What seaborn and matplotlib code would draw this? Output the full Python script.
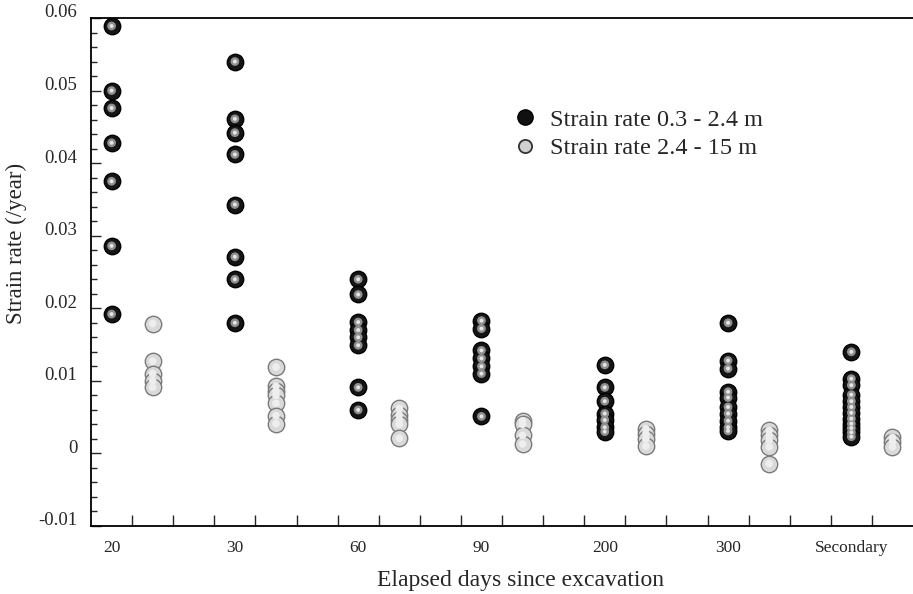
import numpy as np
import pandas as pd
import matplotlib
matplotlib.use("Agg")
import matplotlib.pyplot as plt
import matplotlib.transforms as mtrans
from matplotlib.lines import Line2D
import seaborn as sns

# ---- data ----
groups = ["20", "30", "60", "90", "200", "300", "Secondary"]

shallow = {  # Strain rate 0.3 - 2.4 m
    "20": [0.0589, 0.0500, 0.0476, 0.0428, 0.0375, 0.0286, 0.0192],
    "30": [0.0540, 0.0461, 0.0442, 0.0412, 0.0343, 0.0271, 0.0240, 0.0180],
    "60": [0.0240, 0.0219, 0.0181, 0.0170, 0.0160, 0.0149, 0.0091, 0.0060],
    "90": [0.0183, 0.0172, 0.0142, 0.0131, 0.0120, 0.0110, 0.0051],
    "200": [0.0122, 0.0091, 0.0072, 0.0055, 0.0046, 0.0036, 0.0030],
    "300": [0.0180, 0.0128, 0.0117, 0.0085, 0.0077, 0.0064, 0.0055, 0.0045, 0.0036, 0.0031],
    "Secondary": [0.0140, 0.0103, 0.0094, 0.0081, 0.0072, 0.0064, 0.0056, 0.0048,
                  0.0041, 0.0035, 0.0029, 0.0023],
}
deep = {  # Strain rate 2.4 - 15 m
    "20": [0.0179, 0.0127, 0.0110, 0.0100, 0.0091],
    "30": [0.0119, 0.0093, 0.0086, 0.0080, 0.0069, 0.0052, 0.0041],
    "60": [0.0062, 0.0053, 0.0046, 0.0040, 0.0021],
    "90": [0.0045, 0.0040, 0.0025, 0.0013],
    "200": [0.0034, 0.0027, 0.0020, 0.0010],
    "300": [0.0032, 0.0025, 0.0018, 0.0009, -0.0014],
    "Secondary": [0.0022, 0.0016, 0.0009],
}
series_names = ["Strain rate 0.3 - 2.4 m", "Strain rate 2.4 - 15 m"]
x_label = "Elapsed days since excavation"
y_label = "Strain rate (/year)"

# ---- long-form table ----
rows = []
for gi, g in enumerate(groups):
    for v in shallow[g]:
        rows.append({"group": g, "gi": gi, "series": series_names[0], "rate": v})
    for v in deep[g]:
        rows.append({"group": g, "gi": gi, "series": series_names[1], "rate": v})
df = pd.DataFrame(rows)
offset = {series_names[0]: 0.5, series_names[1]: 1.5}
df["xpos"] = df["gi"] * 3 + df["series"].map(offset)

sns.set_style("ticks")
plt.rcParams["font.family"] = ["Liberation Serif", "DejaVu Serif"]

fig = plt.figure(figsize=(9.13, 5.94), dpi=100)
ax = fig.add_axes([0.0997, 0.1145, 0.9003, 0.8552])

d1 = df[df["series"] == series_names[0]]
d2 = df[df["series"] == series_names[1]]
sns.scatterplot(data=d2, x="xpos", y="rate", ax=ax, s=140, color="#d9d9d9",
                edgecolor="#7a7a7a", linewidth=1.0, legend=False, zorder=3)
sns.scatterplot(data=d1, x="xpos", y="rate", ax=ax, s=140, color="#151515",
                edgecolor="#000000", linewidth=1.0, legend=False, zorder=4)
# sphere highlights
sns.scatterplot(data=d2, x="xpos", y="rate", ax=ax, s=30, color="#eeeeee",
                edgecolor="none", linewidth=0, legend=False, zorder=3.5)
sns.scatterplot(data=d1, x="xpos", y="rate", ax=ax, s=40, color="#8f8f8f",
                edgecolor="none", linewidth=0, legend=False, zorder=4.5)
sns.scatterplot(data=d1, x="xpos", y="rate", ax=ax, s=8, color="#e6e6e6",
                edgecolor="none", linewidth=0, legend=False, zorder=4.6)

ax.set_xlim(0, 20)
ax.set_ylim(-0.01, 0.06)

# x axis: category labels (no marks) + inward minor ticks
ax.set_xticks([gi * 3 + 0.5 for gi in range(len(groups))])
ax.set_xticklabels(groups)
ax.set_xticks(np.arange(1, 20), minor=True)
ax.tick_params(axis="x", which="major", length=0, pad=10, labelsize=12.5)
ax.tick_params(axis="x", which="minor", direction="in", length=8, width=1.0)

# y axis
yt = [-0.01, 0.0, 0.01, 0.02, 0.03, 0.04, 0.05, 0.06]
ax.set_yticks(yt)
ax.set_yticklabels(["-0.01", "0", "0.01", "0.02", "0.03", "0.04", "0.05", "0.06"])
ax.set_yticks(np.arange(-0.01, 0.0601, 0.002), minor=True)
ax.tick_params(axis="y", which="major", direction="in", length=7, width=1.0,
               pad=10, labelsize=13.5)
ax.tick_params(axis="y", which="minor", direction="in", length=4, width=1.0)
shift = mtrans.ScaledTranslation(0, 7 / 100, fig.dpi_scale_trans)
for lbl in ax.get_yticklabels():
    lbl.set_transform(lbl.get_transform() + shift)

for side in ["left", "bottom", "top"]:
    ax.spines[side].set_linewidth(1.3)
    ax.spines[side].set_color("black")
ax.spines["right"].set_visible(False)

ax.set_xlabel(x_label, fontsize=17, labelpad=10)
ax.xaxis.label.set_x(0.522)
ax.set_ylabel(y_label, fontsize=16.5)
ax.yaxis.set_label_coords(-0.078, 0.557)

handles = [
    Line2D([], [], linestyle="none", marker="o", markersize=11,
           markerfacecolor="#111111", markeredgecolor="#000000"),
    Line2D([], [], linestyle="none", marker="o", markersize=9.5,
           markerfacecolor="#d0d0d0", markeredgecolor="#333333", markeredgewidth=1.3),
]
ax.legend(handles, series_names, loc="upper left", bbox_to_anchor=(0.487, 0.864),
          frameon=False, fontsize=17.5, handletextpad=0.5, labelspacing=0.25,
          handlelength=1.0)

fig.savefig("out.png", dpi=100)
